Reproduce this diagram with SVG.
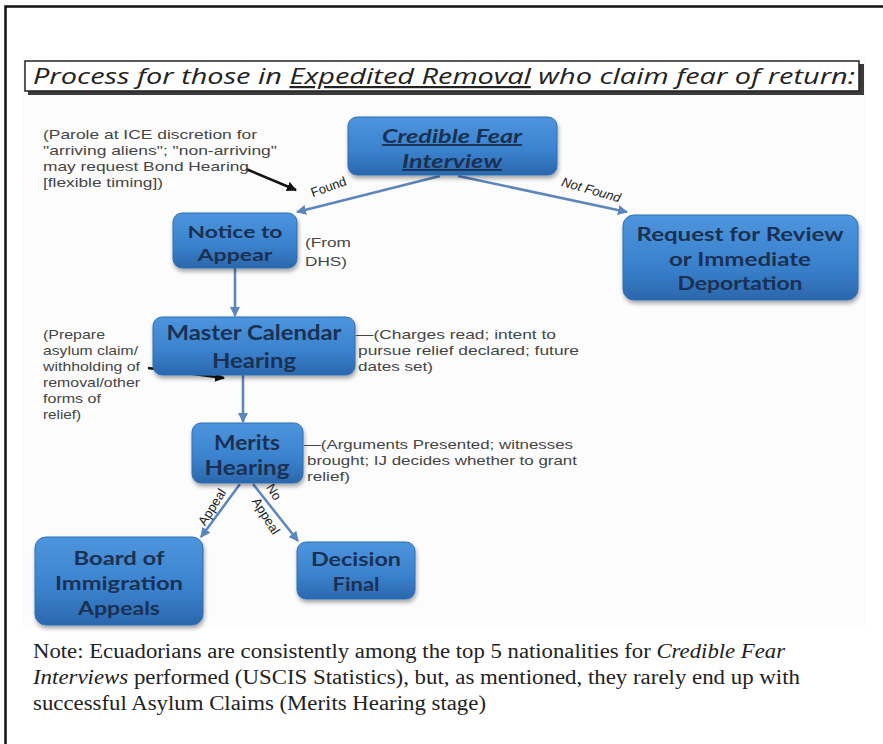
<svg xmlns="http://www.w3.org/2000/svg" width="883" height="744" viewBox="0 0 883 744">
<defs>
<linearGradient id="bg" x1="0" y1="0" x2="0" y2="1">
<stop offset="0" stop-color="#4d95dd"/>
<stop offset="0.6" stop-color="#3a81cd"/>
<stop offset="1" stop-color="#2b67ac"/>
</linearGradient>
<filter id="sh" x="-10%" y="-10%" width="130%" height="140%">
<feGaussianBlur in="SourceAlpha" stdDeviation="2"/>
<feOffset dx="1" dy="3"/>
<feComponentTransfer><feFuncA type="linear" slope="0.35"/></feComponentTransfer>
<feMerge><feMergeNode/><feMergeNode in="SourceGraphic"/></feMerge>
</filter>
<marker id="ab" viewBox="0 0 10 10" refX="9" refY="5" markerWidth="4" markerHeight="4" orient="auto"><path d="M0,0 L10,5 L0,10 z" fill="#5b86bd"/></marker>
<marker id="ak" viewBox="0 0 10 10" refX="9" refY="5" markerWidth="4" markerHeight="4" orient="auto"><path d="M0,0 L10,5 L0,10 z" fill="#111"/></marker>
</defs>
<style>
.box{fill:url(#bg);stroke:#2f6fb5;stroke-width:1;filter:url(#sh)}
.nt{font-family:Lato,"Liberation Sans",sans-serif;font-weight:bold;fill:#1a3153;text-anchor:middle}
.an{font-family:"Liberation Sans",Arial,sans-serif;font-size:13.5px;fill:#454545}
.cl{font-family:"Liberation Sans",Arial,sans-serif;font-size:13px;fill:#222}
.con{stroke:#5b86bd;stroke-width:2.5;fill:none;marker-end:url(#ab)}
.blk{stroke:#111;stroke-width:2.5;fill:none;marker-end:url(#ak)}
.note{font-family:"Liberation Serif","Times New Roman",serif;font-size:20px;fill:#222}
</style>
<rect x="0" y="0" width="883" height="744" fill="#fff"/>
<rect x="5.5" y="6.5" width="900" height="800" fill="none" stroke="#111" stroke-width="2.5"/>
<rect x="23" y="56" width="843" height="572" fill="#fcfcfc"/>
<g id="title">
<rect x="28" y="64" width="836" height="31" fill="#3a3a3a"/>
<rect x="25" y="61" width="834" height="30" fill="#fff" stroke="#222" stroke-width="1.5"/>
<text x="33" y="84" font-family="'Open Sans','Liberation Sans',sans-serif" font-style="italic" font-size="22" fill="#222" textLength="822" lengthAdjust="spacingAndGlyphs">Process for those in <tspan text-decoration="underline">Expedited Removal</tspan> who claim fear of return:</text>
</g>
<g id="connectors">
<line class="con" x1="440" y1="176" x2="297" y2="212"/>
<line class="con" x1="458" y1="176" x2="627" y2="212"/>
<line class="con" x1="235" y1="268" x2="235" y2="316"/>
<line class="con" x1="243" y1="375" x2="243" y2="422"/>
<line class="con" x1="240" y1="484" x2="201" y2="537"/>
<line class="con" x1="253" y1="484" x2="298" y2="541"/>
<text class="cl" transform="translate(330,191) rotate(-20)" text-anchor="middle">Found</text>
<text class="cl" transform="translate(590,194) rotate(16)" text-anchor="middle" font-style="italic">Not Found</text>
<text class="cl" transform="translate(212,507) rotate(-58)" text-anchor="middle" dy="4.5">Appeal</text>
<text class="cl" transform="translate(274,492) rotate(58)" text-anchor="middle" dy="4.5">No</text>
<text class="cl" transform="translate(266,516) rotate(58)" text-anchor="middle" dy="4.5">Appeal</text>
<line class="blk" x1="246" y1="169" x2="296" y2="190"/>
<line class="blk" x1="148" y1="368" x2="224" y2="378"/>
</g>
<g id="cfi">
<rect class="box" x="348" y="117" width="209" height="58" rx="9"/>
<text class="nt" x="452" y="143" font-size="19" font-style="italic" text-decoration="underline" textLength="140" lengthAdjust="spacingAndGlyphs">Credible Fear</text>
<text class="nt" x="452" y="168" font-size="19" font-style="italic" text-decoration="underline" textLength="100" lengthAdjust="spacingAndGlyphs">Interview</text>
</g>
<g id="notice">
<rect class="box" x="173" y="213" width="124" height="55" rx="9"/>
<text class="nt" x="235" y="238" font-size="17" textLength="95" lengthAdjust="spacingAndGlyphs">Notice to</text>
<text class="nt" x="235" y="261" font-size="17" textLength="75" lengthAdjust="spacingAndGlyphs">Appear</text>
</g>
<g id="request">
<rect class="box" x="623" y="215" width="235" height="85" rx="11"/>
<text class="nt" x="740" y="241" font-size="18.5" textLength="207" lengthAdjust="spacingAndGlyphs">Request for Review</text>
<text class="nt" x="740" y="266" font-size="18.5" textLength="142" lengthAdjust="spacingAndGlyphs">or Immediate</text>
<text class="nt" x="740" y="290" font-size="18.5" textLength="125" lengthAdjust="spacingAndGlyphs">Deportation</text>
</g>
<g id="master">
<rect class="box" x="153" y="317" width="202" height="58" rx="9"/>
<text class="nt" x="254" y="340" font-size="20" textLength="175" lengthAdjust="spacingAndGlyphs">Master Calendar</text>
<text class="nt" x="254" y="368" font-size="20" textLength="84" lengthAdjust="spacingAndGlyphs">Hearing</text>
</g>
<g id="merits">
<rect class="box" x="192" y="423" width="111" height="60" rx="9"/>
<text class="nt" x="247" y="450" font-size="20" textLength="66" lengthAdjust="spacingAndGlyphs">Merits</text>
<text class="nt" x="247" y="475" font-size="20" textLength="85" lengthAdjust="spacingAndGlyphs">Hearing</text>
</g>
<g id="board">
<rect class="box" x="35" y="537" width="168" height="88" rx="11"/>
<text class="nt" x="119" y="565" font-size="18" textLength="91" lengthAdjust="spacingAndGlyphs">Board of</text>
<text class="nt" x="119" y="590" font-size="18" textLength="128" lengthAdjust="spacingAndGlyphs">Immigration</text>
<text class="nt" x="119" y="615" font-size="18" textLength="82" lengthAdjust="spacingAndGlyphs">Appeals</text>
</g>
<g id="decision">
<rect class="box" x="297" y="542" width="118" height="57" rx="9"/>
<text class="nt" x="356" y="566" font-size="18" textLength="90" lengthAdjust="spacingAndGlyphs">Decision</text>
<text class="nt" x="356" y="591" font-size="18" textLength="47" lengthAdjust="spacingAndGlyphs">Final</text>
</g>
<g id="annotations">
<text class="an" x="43" y="139" textLength="214" lengthAdjust="spacingAndGlyphs">(Parole at ICE discretion for</text>
<text class="an" x="43" y="155" textLength="234" lengthAdjust="spacingAndGlyphs">"arriving aliens"; "non-arriving"</text>
<text class="an" x="43" y="171" textLength="206" lengthAdjust="spacingAndGlyphs">may request Bond Hearing</text>
<text class="an" x="43" y="187" textLength="120" lengthAdjust="spacingAndGlyphs">[flexible timing])</text>
<text class="an" x="305" y="247" textLength="46" lengthAdjust="spacingAndGlyphs">(From</text>
<text class="an" x="305" y="266" textLength="42" lengthAdjust="spacingAndGlyphs">DHS)</text>
<text class="an" x="356" y="339" textLength="200" lengthAdjust="spacingAndGlyphs">—(Charges read; intent to</text>
<text class="an" x="358" y="355" textLength="221" lengthAdjust="spacingAndGlyphs">pursue relief declared; future</text>
<text class="an" x="358" y="371" textLength="75" lengthAdjust="spacingAndGlyphs">dates set)</text>
<text class="an" x="43" y="339" textLength="62" lengthAdjust="spacingAndGlyphs">(Prepare</text>
<text class="an" x="43" y="355" textLength="95" lengthAdjust="spacingAndGlyphs">asylum claim/</text>
<text class="an" x="43" y="371" textLength="97" lengthAdjust="spacingAndGlyphs">withholding of</text>
<text class="an" x="43" y="387" textLength="97" lengthAdjust="spacingAndGlyphs">removal/other</text>
<text class="an" x="43" y="403" textLength="58" lengthAdjust="spacingAndGlyphs">forms of</text>
<text class="an" x="43" y="419" textLength="38" lengthAdjust="spacingAndGlyphs">relief)</text>
<text class="an" x="304" y="449" textLength="269" lengthAdjust="spacingAndGlyphs">—(Arguments Presented; witnesses</text>
<text class="an" x="307" y="465" textLength="270" lengthAdjust="spacingAndGlyphs">brought; IJ decides whether to grant</text>
<text class="an" x="307" y="481" textLength="43" lengthAdjust="spacingAndGlyphs">relief)</text>
</g>
<g id="note">
<text class="note" x="33" y="658" textLength="752" lengthAdjust="spacingAndGlyphs">Note: Ecuadorians are consistently among the top 5 nationalities for <tspan font-style="italic">Credible Fear</tspan></text>
<text class="note" x="33" y="684" textLength="767" lengthAdjust="spacingAndGlyphs"><tspan font-style="italic">Interviews</tspan> performed (USCIS Statistics), but, as mentioned, they rarely end up with</text>
<text class="note" x="33" y="710" textLength="453" lengthAdjust="spacingAndGlyphs">successful Asylum Claims (Merits Hearing stage)</text>
</g>
</svg>
